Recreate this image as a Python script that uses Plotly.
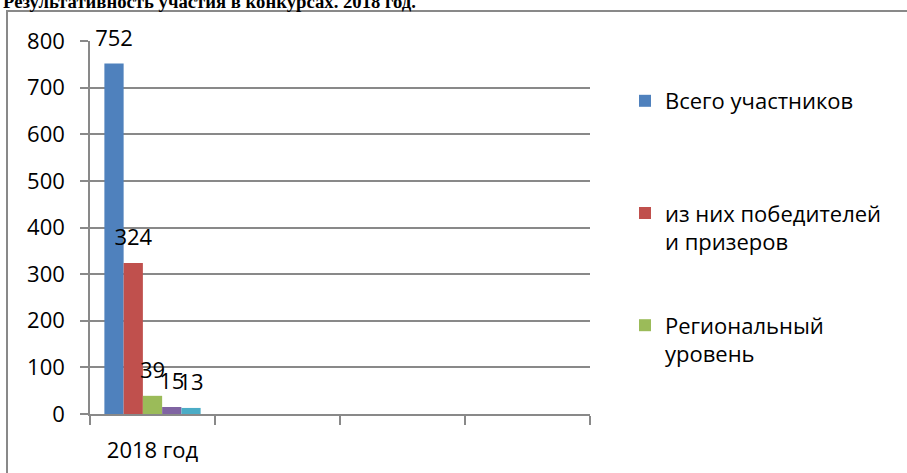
import plotly.graph_objects as go

categories = ["2018 год"]
series_names = ["Всего участников", "из них победителей<br>и призеров",
                "Региональный<br>уровень", "Ряд 4", "Ряд 5"]
series_values = [[752], [324], [39], [15], [13]]
series_colors = ["#4F81BD", "#C0504D", "#9BBB59", "#8064A2", "#4BACC6"]
legend_shown = [True, True, True, False, False]
empty_slots = ["", "", ""]
y_ticks = [0, 100, 200, 300, 400, 500, 600, 700, 800]

FONT = "Open Sans, Noto Sans, sans-serif"
GRAY = "#898989"

W, H = 907, 473
L, R, T, B = 90, 317, 41, 59
pw, ph = W - L - R, H - T - B

def px_x(p):
    return (p - L) / pw

def px_y(p):
    return (H - B - p) / ph

xs = list(range(len(categories)))
fig = go.Figure()
for i, (name, vals, col, sl) in enumerate(zip(series_names, series_values, series_colors, legend_shown)):
    nm = name + ("<br> " if "<br>" not in name and sl else "")
    fig.add_trace(go.Bar(
        x=xs, y=vals, name=nm, marker=dict(color=col, line=dict(width=0)),
        showlegend=sl, legendgroup="g%d" % i, offsetgroup="o%d" % i,
    ))
# data labels, aligned with the grouped bars
for i, vals in enumerate(series_values):
    fig.add_trace(go.Scatter(
        x=xs, y=vals, mode="markers+text", text=[str(v) for v in vals],
        textposition="top center", marker=dict(size=18, opacity=0),
        textfont=dict(family=FONT, size=22, color="black"),
        cliponaxis=False, showlegend=False, hoverinfo="skip", offsetgroup="o%d" % i,
    ))

all_labels = categories + empty_slots
fig.update_layout(
    width=W, height=H,
    margin=dict(l=L, r=R, t=T, b=B, autoexpand=False),
    paper_bgcolor="white", plot_bgcolor="white",
    barmode="group", bargap=0.23, bargroupgap=0,
    scattermode="group", scattergap=0.23,
    font=dict(family=FONT, size=22, color="black"),
    showlegend=True,
    legend=dict(x=px_x(625), xanchor="left", y=px_y(80), yanchor="top",
                font=dict(family=FONT, size=22, color="black"),
                valign="top", tracegroupgap=52, itemwidth=30,
                bgcolor="rgba(0,0,0,0)"),
    xaxis=dict(range=[-0.5, len(all_labels) - 0.5], automargin=False,
               tickmode="array", tickvals=list(range(len(all_labels))), ticktext=all_labels,
               ticks="", showgrid=False, zeroline=False,
               showline=True, linecolor=GRAY, linewidth=1.5,
               ticklabelstandoff=16,
               minor=dict(ticks="outside", ticklen=9, tickcolor=GRAY, tickwidth=1.5,
                          tick0=-0.5, dtick=1, showgrid=False),
               tickfont=dict(family=FONT, size=22, color="black")),
    yaxis=dict(range=[0, 800], tickmode="array", tickvals=y_ticks, automargin=False,
               ticks="outside", ticklen=8, tickcolor=GRAY, tickwidth=1.5,
               showgrid=True, gridcolor=GRAY, gridwidth=1.5,
               zeroline=False, showline=True, linecolor=GRAY, linewidth=1.5,
               ticklabelstandoff=11,
               tickfont=dict(family=FONT, size=22, color="black")),
    shapes=[dict(type="rect", xref="paper", yref="paper",
                 x0=px_x(7), x1=px_x(960), y0=px_y(520), y1=px_y(11),
                 line=dict(color=GRAY, width=2), fillcolor="rgba(0,0,0,0)", layer="below")],
    annotations=[dict(text="<b>Результативность участия в конкурсах. 2018 год.</b>",
                      xref="paper", yref="paper", x=px_x(1), xanchor="left",
                      y=px_y(2), yanchor="middle", showarrow=False,
                      font=dict(family="Liberation Serif, Times New Roman, serif", size=18.7, color="black"))],
)

fig.write_html("out.html", config={"displayModeBar": False},
               post_script="document.body.style.margin='0px';")
